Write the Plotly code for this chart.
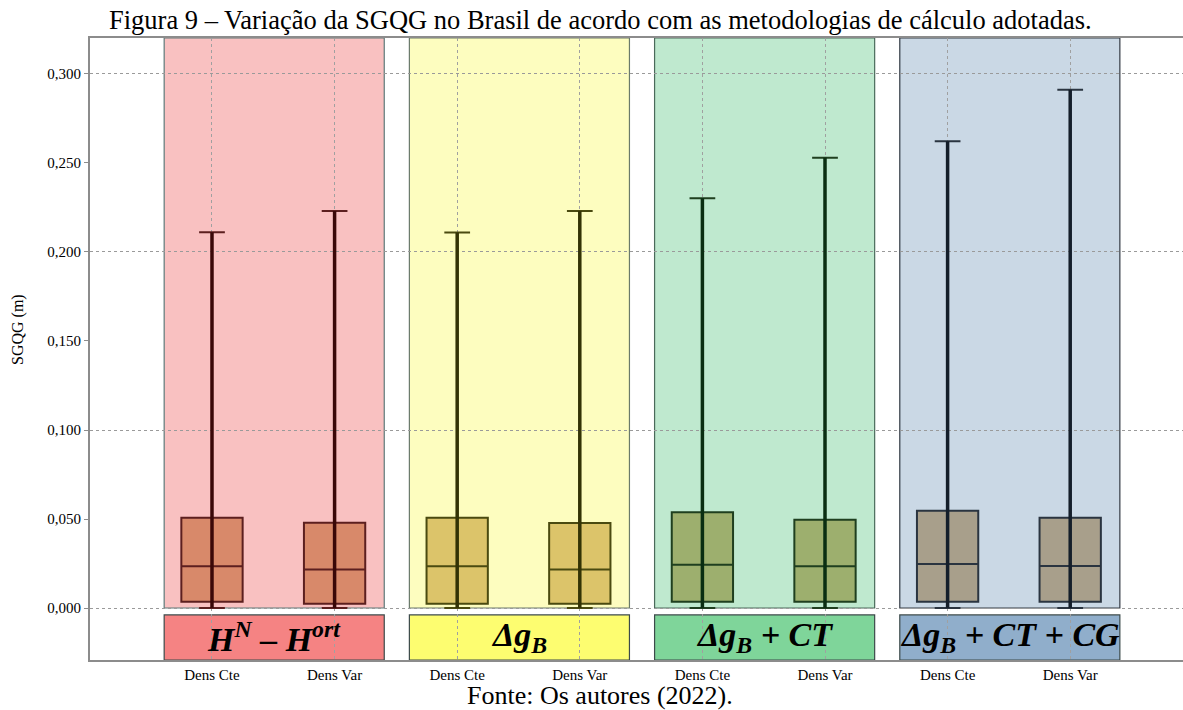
import plotly.graph_objects as go

# ---- data ----
group_labels = ["H<sup>N</sup> – H<sup>ort</sup>", "Δg<sub>B</sub>",
                "Δg<sub>B</sub> + CT", "Δg<sub>B</sub> + CT + CG"]
categories = ["Dens Cte", "Dens Var"] * 4
q1 = [0.0035, 0.0024, 0.0024, 0.0024, 0.0035, 0.0035, 0.0035, 0.0035]
median = [0.0234, 0.0217, 0.0234, 0.0217, 0.0243, 0.0234, 0.0247, 0.0236]
q3 = [0.0507, 0.0479, 0.0507, 0.0478, 0.0538, 0.0496, 0.0547, 0.0507]
minimum = [0.0, 0.0, 0.0, 0.0, 0.0, 0.0, 0.0, 0.0]
maximum = [0.2111, 0.2230, 0.2110, 0.2230, 0.2302, 0.2530, 0.2622, 0.2912]
y_ticks = [0.0, 0.05, 0.10, 0.15, 0.20, 0.25, 0.30]
y_grid = [0.0, 0.10, 0.20, 0.30]

# ---- styles ----
bg_colors = ["#f9c1c1", "#fdfdbf", "#bfe9cf", "#cad8e5"]
label_colors = ["#f58383", "#fdfd70", "#7fd59a", "#90aecb"]
box_fill = ["#d8896a", "#dcc46a", "#9daf6e", "#a89f8b"]
box_line = ["#5c1f1f", "#4a4a10", "#1f3f1f", "#2a3440"]
point_color = ["#3a0808", "#333305", "#0a2e12", "#141e2a"]
rect_line = ["#5f7a7a", "#6a7a6a", "#4a6a5a", "#333a44"]

Y_MIN, Y_MAX = -0.0292, 0.3202
SERIF = "Liberation Serif"
W, H = 1183, 710
L, T, B = 90, 38, 50
PW = W - L
PH = H - T - B

fig = go.Figure()

xs = list(range(len(categories)))
for i, x in enumerate(xs):
    g = i // 2
    fig.add_trace(go.Box(
        x=[x], q1=[q1[i]], median=[median[i]], q3=[q3[i]],
        lowerfence=[minimum[i]], upperfence=[maximum[i]],
        width=0.5, whiskerwidth=0.42,
        fillcolor=box_fill[g], line=dict(color=box_line[g], width=2),
        boxpoints=False, showlegend=False, hoverinfo="skip",
    ))
for i, x in enumerate(xs):
    g = i // 2
    fig.add_trace(go.Scatter(
        x=[x, x], y=[minimum[i], maximum[i]], mode="lines",
        line=dict(color=point_color[g], width=3.5),
        showlegend=False, hoverinfo="skip",
    ))
# invisible trace for the overlay grid axis
fig.add_trace(go.Scatter(x=[xs[0]], y=[0], yaxis="y2", mode="markers",
                         marker=dict(opacity=0), showlegend=False, hoverinfo="skip"))

shapes = []
annotations = []
for g in range(4):
    x0 = 2 * g - 0.39
    x1 = 2 * g + 1.405
    shapes.append(dict(type="rect", xref="x", yref="y", x0=x0, x1=x1, y0=0, y1=Y_MAX,
                       fillcolor=bg_colors[g], line=dict(color=rect_line[g], width=1.2),
                       layer="below"))
    shapes.append(dict(type="rect", xref="x", yref="y", x0=x0, x1=x1, y0=-0.0039, y1=Y_MIN,
                       fillcolor=label_colors[g], line=dict(color="#3c4a4a", width=1.2),
                       layer="below"))
    annotations.append(dict(x=(x0 + x1) / 2, y=(-0.0039 + Y_MIN) / 2, xref="x", yref="y",
                            text="<b><i>" + group_labels[g] + "</i></b>", showarrow=False,
                            font=dict(family=SERIF, size=34, color="black")))

annotations.append(dict(x=(600 - L) / PW, y=1, xref="paper", yref="paper",
                        yanchor="bottom", yshift=1, showarrow=False,
                        text="Figura 9 – Variação da SGQG no Brasil de acordo com as metodologias de cálculo adotadas.",
                        font=dict(family=SERIF, size=26.5, color="black")))
annotations.append(dict(x=(600 - L) / PW, y=0, xref="paper", yref="paper",
                        yanchor="middle", yshift=-(695 - (H - B)), showarrow=False,
                        text="Fonte: Os autores (2022).",
                        font=dict(family=SERIF, size=26, color="black")))
annotations.append(dict(x=(18 - L) / PW, y=(H - B - 330) / PH, xref="paper", yref="paper",
                        xanchor="center", yanchor="middle", showarrow=False,
                        textangle=-90, text="SGQG (m)",
                        font=dict(family=SERIF, size=16, color="black")))

fig.update_layout(
    width=W, height=H,
    margin=dict(l=L, r=0, t=T, b=B),
    paper_bgcolor="white", plot_bgcolor="white",
    separators=",.",
    shapes=shapes, annotations=annotations,
    xaxis=dict(range=[-0.995, 7.92], tickvals=xs, ticktext=categories,
               showgrid=True, gridcolor="#a0a0a0", griddash="dot", gridwidth=1,
               showline=True, linecolor="#8c8c8c", linewidth=2, mirror=True,
               ticks="", zeroline=False, automargin=False,
               tickfont=dict(family=SERIF, size=15, color="black")),
    yaxis=dict(range=[Y_MIN, Y_MAX], tickvals=y_ticks, tickformat=".3f",
               showgrid=False, zeroline=False, automargin=False,
               showline=True, linecolor="#8c8c8c", linewidth=2,
               ticks="outside", ticklen=4, tickcolor="#8c8c8c",
               tickfont=dict(family=SERIF, size=15, color="black")),
    yaxis2=dict(range=[Y_MIN, Y_MAX], overlaying="y", tickvals=y_grid,
                showticklabels=False, showgrid=True, gridcolor="#9a9a9a",
                griddash="dot", gridwidth=1, zeroline=False, showline=False,
                automargin=False),
)

fig.write_html("out.html", config={"displayModeBar": False},
               post_script="document.body.style.margin='0';document.body.style.overflow='hidden';")
